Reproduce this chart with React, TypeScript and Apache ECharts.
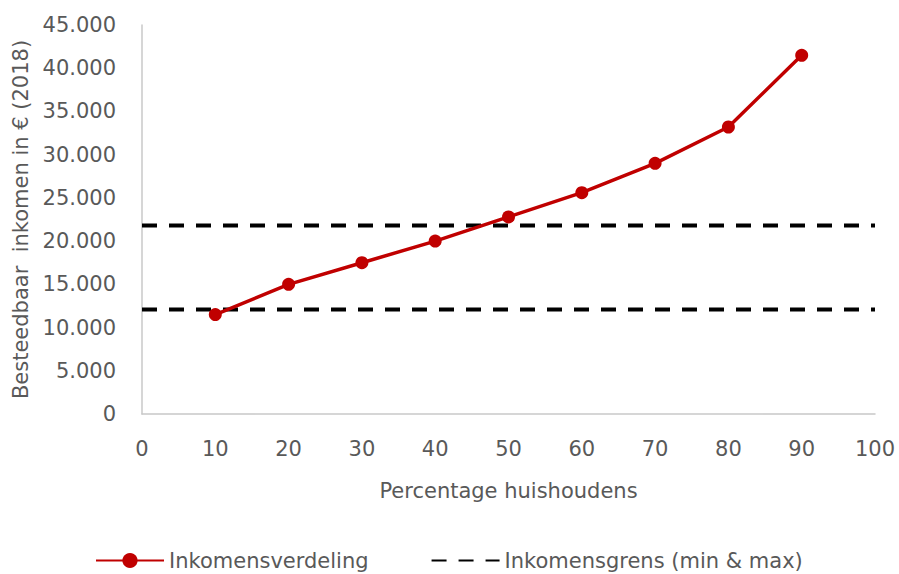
import React, { useEffect, useRef } from "react";
import * as echarts from "echarts";

const percentages = [10, 20, 30, 40, 50, 60, 70, 80, 90];
const incomes = [11500, 15000, 17500, 20000, 22800, 25600, 29000, 33200, 41500];
const limitX = [0, 100];
const minLimit = [12100, 12100];
const maxLimit = [21800, 21800];

const seriesNames = ["Inkomensverdeling", "Inkomensgrens (min & max)"];
const xTitle = "Percentage huishoudens";
const yTitle = "Besteedbaar  inkomen in € (2018)";

const FONT = "DejaVu Sans";
const TEXT = "#595959";

function fmt(v: number): string {
  if (v === 0) return "0";
  return String(v).replace(/\B(?=(\d{3})+(?!\d))/g, ".");
}

export default function App() {
  const ref = useRef<HTMLDivElement>(null);
  useEffect(() => {
    if (!ref.current) return;
    const chart = echarts.init(ref.current, null, { renderer: "svg" });
    chart.setOption({
      animation: false,
      backgroundColor: "#ffffff",
      textStyle: { fontFamily: FONT },
      grid: { left: 142, right: 24, top: 25, bottom: 160, containLabel: false },
      legend: {
        left: 95,
        top: 550,
        padding: 0,
        itemWidth: 68,
        itemHeight: 19,
        itemGap: 62,
        textStyle: { fontFamily: FONT, fontSize: 21, color: TEXT },
        data: [
          { name: seriesNames[0] },
          { name: seriesNames[1], itemStyle: { opacity: 0 } },
        ],
      },
      xAxis: {
        type: "value",
        min: 0,
        max: 100,
        interval: 10,
        name: xTitle,
        nameLocation: "middle",
        nameGap: 66,
        nameTextStyle: { fontFamily: FONT, fontSize: 21, color: TEXT },
        axisLine: { show: true, lineStyle: { color: "#c8c8c8", width: 1.5 } },
        axisTick: { show: false },
        splitLine: { show: false },
        axisLabel: { fontFamily: FONT, fontSize: 21, color: TEXT, margin: 24 },
      },
      yAxis: {
        type: "value",
        min: 0,
        max: 45000,
        interval: 5000,
        name: yTitle,
        nameLocation: "middle",
        nameGap: 108,
        nameTextStyle: { fontFamily: FONT, fontSize: 21, color: TEXT },
        axisLine: { show: true, lineStyle: { color: "#c8c8c8", width: 1.5 } },
        axisTick: { show: false },
        splitLine: { show: false },
        axisLabel: { fontFamily: FONT, fontSize: 21, color: TEXT, margin: 26, formatter: fmt },
      },
      series: [
        {
          name: seriesNames[0],
          type: "line",
          data: percentages.map((p, i) => [p, incomes[i]]),
          symbol: "circle",
          symbolSize: 13,
          itemStyle: { color: "#c00000" },
          lineStyle: { color: "#c00000", width: 3.5 },
          z: 3,
        },
        {
          name: seriesNames[1],
          type: "line",
          data: limitX.map((x, i) => [x, minLimit[i]]),
          symbol: "none",
          itemStyle: { color: "#000000" },
          lineStyle: { color: "#000000", width: 4, type: [15, 12] },
          z: 2,
        },
        {
          name: seriesNames[1],
          type: "line",
          data: limitX.map((x, i) => [x, maxLimit[i]]),
          symbol: "none",
          itemStyle: { color: "#000000" },
          lineStyle: { color: "#000000", width: 4, type: [15, 12] },
          z: 2,
        },
      ],
    });
    return () => chart.dispose();
  }, []);
  return (
    <div
      ref={ref}
      style={{ position: "absolute", left: 0, top: 0, width: 899, height: 574 }}
    />
  );
}
